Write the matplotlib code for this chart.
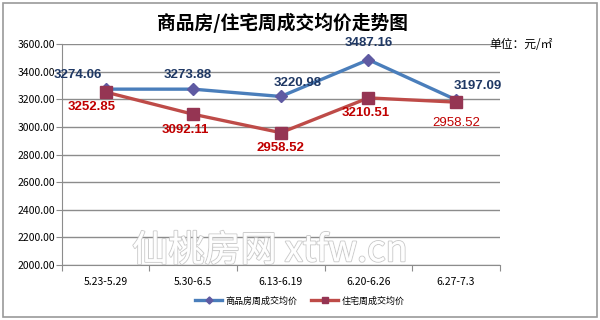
import matplotlib
matplotlib.use("Agg")
import matplotlib.pyplot as plt
import matplotlib.patheffects as pe
from matplotlib.patches import Rectangle

plt.rcParams['font.family'] = ['Noto Sans CJK SC', 'DejaVu Sans']

# ---------------- data ----------------
weeks = ["5.23-5.29", "5.30-6.5", "6.13-6.19", "6.20-6.26", "6.27-7.3"]
shangpin = [3274.06, 3273.88, 3220.98, 3487.16, 3197.09]
zhuzhai = [3252.85, 3092.11, 2958.52, 3210.51, 3180.0]
# labels as printed on the chart (last red label differs from its position)
shangpin_txt = ["3274.06", "3273.88", "3220.98", "3487.16", "3197.09"]
zhuzhai_txt = ["3252.85", "3092.11", "2958.52", "3210.51", "2958.52"]
yticks = [2000, 2200, 2400, 2600, 2800, 3000, 3200, 3400, 3600]

# label offsets in points
off_blue = [(-20, 10), (-4, 10), (12, 10), (0, 12), (16, 10)]
off_red = [(-10, -11), (-6, -11), (0, -11), (-2, -11), (0, -15)]

fig = plt.figure(figsize=(6, 3.2), dpi=100)
fig.patches.append(Rectangle((0.005, 0.01), 0.99, 0.98, transform=fig.transFigure,
                             fill=False, edgecolor="#9a9a9a", lw=1.2))
ax = fig.add_axes([0.103, 0.172, 0.73, 0.69])

x = list(range(len(weeks)))
ax.plot(x, shangpin, color="#4A7EBB", lw=2.4, marker="D", ms=6,
        mfc="#5F5AA2", mec="#5F5AA2", label="商品房周成交均价", zorder=3)
ax.plot(x, zhuzhai, color="#BE4B48", lw=2.4, marker="s", ms=8,
        mfc="#953553", mec="#953553", label="住宅周成交均价", zorder=3)

for i in x:
    ax.annotate(shangpin_txt[i], (i, shangpin[i]), xytext=off_blue[i],
                textcoords="offset points", ha="center", va="center",
                fontsize=9.5, fontweight="bold", color="#1F3864",
                family=["Liberation Sans", "DejaVu Sans"], zorder=4)
    ax.annotate(zhuzhai_txt[i], (i, zhuzhai[i]), xytext=off_red[i],
                textcoords="offset points", ha="center", va="center",
                fontsize=9.5, fontweight="bold" if i < 4 else "normal",
                color="#C00000", family=["Liberation Sans", "DejaVu Sans"], zorder=4)

ax.set_xlim(-0.5, len(weeks) - 0.5)
ax.set_ylim(2000, 3600)
ax.set_yticks(yticks)
ax.set_yticklabels([f"{v:.2f}" for v in yticks], fontsize=7.5)
ax.yaxis.grid(True, color="#8c8c8c", lw=1)
ax.set_axisbelow(True)

ax.set_xticks([i - 0.5 for i in range(len(weeks) + 1)])
ax.set_xticklabels([])
ax.set_xticks(x, minor=True)
ax.set_xticklabels(weeks, minor=True, fontsize=7.5)
ax.tick_params(axis="x", which="minor", length=0, pad=9)
ax.tick_params(axis="x", which="major", length=4, color="#8c8c8c")
ax.tick_params(axis="y", length=4, color="#8c8c8c", pad=1)

for s in ["top", "right"]:
    ax.spines[s].set_visible(False)
for s in ["left", "bottom"]:
    ax.spines[s].set_color("#8c8c8c")

fig.text(0.47, 0.93, "商品房/住宅周成交均价走势图", ha="center", va="center",
         fontsize=13.5, fontweight="bold")
fig.text(0.815, 0.862, "单位：元/㎡", ha="left", va="center", fontsize=8.5)

# watermark
fig.text(0.45, 0.215, "仙桃房网 xtfw.cn", ha="center", va="center", fontsize=26,
         color="white", alpha=0.9,
         path_effects=[pe.withStroke(linewidth=1.5, foreground="#c8c8c8"), pe.Normal()],
         zorder=5)

fig.legend(loc="center", bbox_to_anchor=(0.5, 0.06), ncol=2, frameon=False,
           fontsize=6.5, handlelength=3, columnspacing=1.5, handletextpad=0.4,
           markerscale=0.6)

fig.savefig("out.png", dpi=100)
